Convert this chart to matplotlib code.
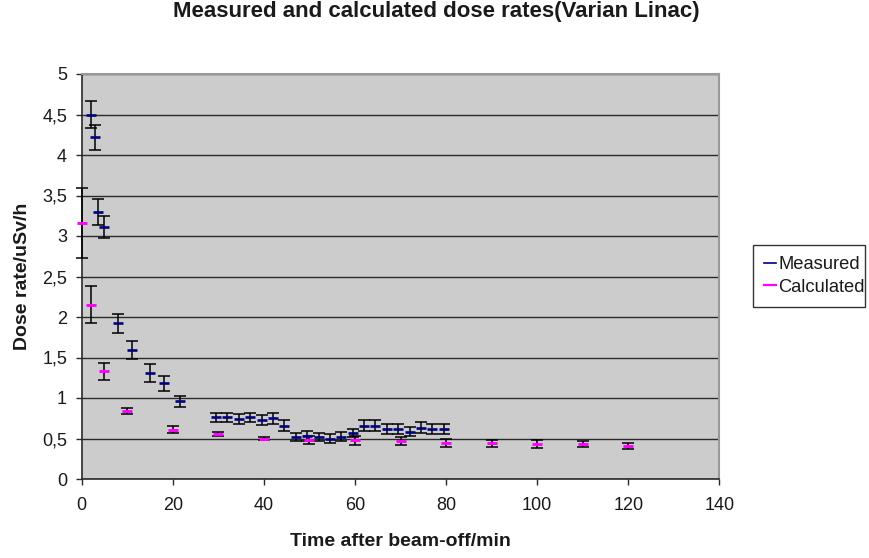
import matplotlib
matplotlib.use("Agg")
import matplotlib.pyplot as plt
from matplotlib.lines import Line2D
from matplotlib.ticker import FuncFormatter

plt.rcParams['font.family'] = ['Liberation Sans', 'DejaVu Sans']

# Measured dose rates (uSv/h) vs time after beam-off (min)
t_meas = [2, 3, 3.5, 5, 8, 11, 15, 18, 21.5, 29.5, 32, 34.5, 37, 39.5, 42, 44.5,
          47, 49.5, 52, 54.5, 57, 59.5, 62, 64.5, 67, 69.5, 72, 74.5, 77, 79.5]
v_meas = [4.50, 4.22, 3.30, 3.11, 1.92, 1.59, 1.31, 1.18, 0.96, 0.76, 0.76, 0.74, 0.76,
          0.73, 0.75, 0.66, 0.52, 0.53, 0.52, 0.495, 0.52, 0.565, 0.66, 0.66, 0.62,
          0.62, 0.585, 0.635, 0.62, 0.62]
e_meas = [0.17, 0.155, 0.16, 0.14, 0.12, 0.11, 0.11, 0.09, 0.07, 0.06, 0.06, 0.06, 0.06,
          0.065, 0.065, 0.065, 0.05, 0.06, 0.05, 0.055, 0.055, 0.05, 0.065, 0.065, 0.06,
          0.06, 0.055, 0.065, 0.06, 0.06]

# Calculated dose rates
t_calc = [0, 2, 5, 10, 20, 30, 40, 50, 60, 70, 80, 90, 100, 110, 120]
v_calc = [3.16, 2.15, 1.33, 0.84, 0.61, 0.55, 0.50, 0.48, 0.48, 0.47, 0.44, 0.44, 0.43, 0.43, 0.41]
e_calc = [0.43, 0.23, 0.105, 0.04, 0.04, 0.025, 0.02, 0.045, 0.055, 0.045, 0.05, 0.04, 0.05, 0.035, 0.04]

x_ticks = [0, 20, 40, 60, 80, 100, 120, 140]
y_ticks = [0, 0.5, 1, 1.5, 2, 2.5, 3, 3.5, 4, 4.5, 5]

title = "Measured and calculated dose rates(Varian Linac)"
xlabel = "Time after beam-off/min"
ylabel = "Dose rate/uSv/h"
series_names = ["Measured", "Calculated"]

c_meas = "#000080"
c_calc = "#FF00FF"

W, H = 869, 558
fig = plt.figure(figsize=(W/100, H/100), dpi=100)
ax_l, ax_r, ax_t, ax_b = 81.7, 719.4, 74, 479
ax = fig.add_axes([ax_l/W, 1-ax_b/H, (ax_r-ax_l)/W, (ax_b-ax_t)/H])
ax.set_facecolor("#CCCCCC")

ax.set_xlim(0, 140)
ax.set_ylim(0, 5)
ax.set_xticks(x_ticks)
ax.set_yticks(y_ticks)
ax.yaxis.set_major_formatter(FuncFormatter(lambda v, p: ("%g" % v).replace(".", ",")))
ax.grid(axis='y', color="#2a2a2a", linewidth=1.0, zorder=1)
ax.set_axisbelow(True)

for s in ['left', 'bottom']:
    ax.spines[s].set_color("#2a2a2a")
    ax.spines[s].set_linewidth(1.2)
for s in ['top', 'right']:
    ax.spines[s].set_color("#999999")
    ax.spines[s].set_linewidth(1.5)

ax.tick_params(axis='both', direction='out', length=4.5, width=1, color="#2a2a2a",
               labelsize=13, labelcolor="#1a1a1a")
ax.tick_params(axis='x', pad=8.5)
ax.tick_params(axis='y', pad=6)

ekw = dict(fmt='none', ecolor='black', elinewidth=1.1, capsize=4.3, capthick=1.1,
           clip_on=False, zorder=3)
ax.errorbar(t_meas, v_meas, yerr=e_meas, **ekw)
ax.errorbar(t_calc, v_calc, yerr=e_calc, **ekw)
ax.plot(t_meas, v_meas, linestyle='none', marker='_', markersize=7, markeredgewidth=1.9,
        color=c_meas, clip_on=False, zorder=4)
ax.plot(t_calc, v_calc, linestyle='none', marker='_', markersize=7.5, markeredgewidth=2.1,
        color=c_calc, clip_on=False, zorder=4)

ax.set_xlabel(xlabel, fontsize=14, fontweight='bold', color="#1a1a1a")
ax.xaxis.set_label_coords(0.5, (ax_b-533)/(ax_b-ax_t))
ax.set_ylabel(ylabel, fontsize=14, fontweight='bold', color="#1a1a1a")
ax.yaxis.set_label_coords((31-ax_l)/(ax_r-ax_l), 0.5)
fig.text(436/W, 1-16.5/H, title, ha='center', va='baseline', fontsize=16,
         fontweight='bold', color="#1a1a1a")

handles = [Line2D([], [], color=c_meas, linewidth=1.2),
           Line2D([], [], color=c_calc, linewidth=1.6)]
leg = fig.legend(handles, series_names, loc='upper left', mode='expand',
                 bbox_to_anchor=(753/W, 1-307/H, (865-753)/W, (307-245)/H),
                 bbox_transform=fig.transFigure,
                 fontsize=13.2, frameon=True, fancybox=False, handlelength=0.65,
                 handletextpad=0.12, borderpad=0.6, labelspacing=0.3, borderaxespad=0)
for t in leg.get_texts():
    t.set_color("#1a1a1a")
leg.get_frame().set_edgecolor('black')
leg.get_frame().set_linewidth(1.0)

fig.savefig("out.png", dpi=100)
